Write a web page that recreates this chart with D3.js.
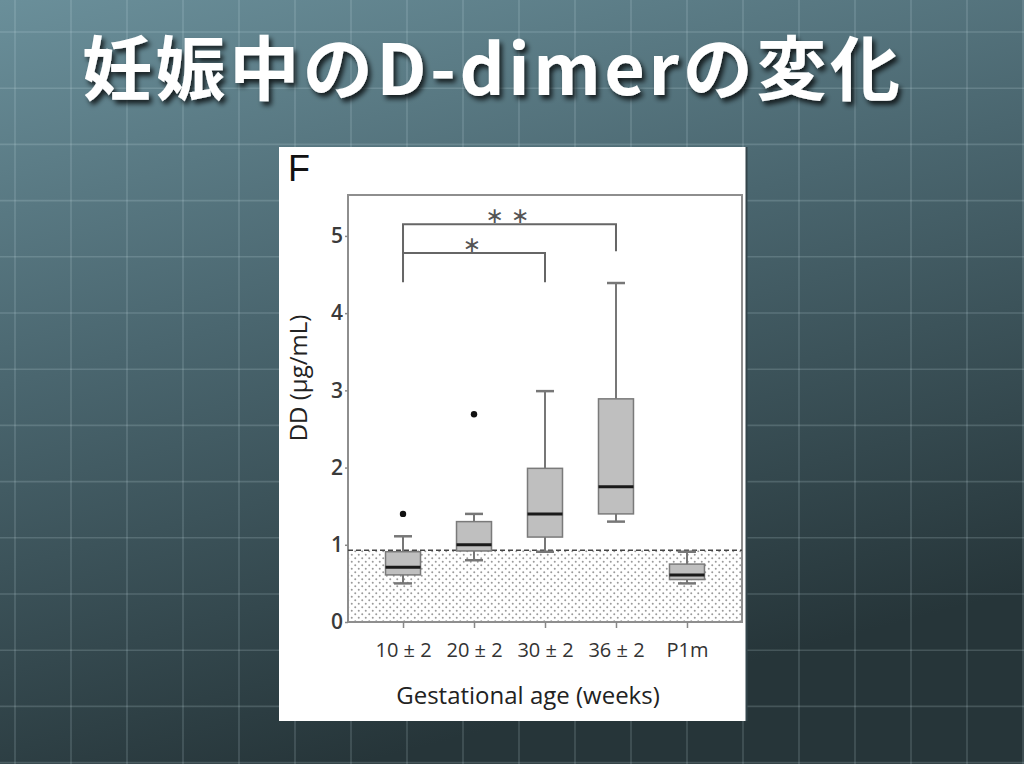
<!DOCTYPE html>
<html>
<head>
<meta charset="utf-8">
<script src="https://cdn.jsdelivr.net/npm/d3@7"></script>
<style>
  html, body { margin: 0; padding: 0; background: #3a5059; }
  svg { display: block; }
</style>
</head>
<body>
<svg id="chart" width="1024" height="764"></svg>
<script>
// ---------- data ----------
const title = "妊娠中のD-dimerの変化";
const panelLabel = "F";
const categories = ["10±2", "20±2", "30±2", "36±2", "P1m"];
const categoryLabels = ["10 ± 2", "20 ± 2", "30 ± 2", "36 ± 2", "P1m"];
const whiskerLow  = [0.50, 0.80, 0.91, 1.30, 0.50];
const q1          = [0.61, 0.92, 1.10, 1.40, 0.55];
const median      = [0.71, 1.00, 1.40, 1.75, 0.61];
const q3          = [0.91, 1.30, 1.99, 2.89, 0.75];
const whiskerHigh = [1.11, 1.40, 2.99, 4.39, 0.91];
const outlierCats   = ["10±2", "20±2"];
const outlierValues = [1.40, 2.69];
const yTicks = [0, 1, 2, 3, 4, 5];
const cutoffValue = 0.93;
const bracketFrom   = ["10±2", "10±2"];
const bracketTo     = ["36±2", "30±2"];
const bracketTop    = [5.15, 4.78];
const bracketLeftEnd  = [4.78, 4.40];
const bracketRightEnd = [4.80, 4.40];
const bracketLabels = ["∗ ∗", "∗"];
const yLabel = "DD (µg/mL)";
const xLabel = "Gestational age (weeks)";

// ---------- setup ----------
const W = 1024, H = 764;
const svg = d3.select("#chart");
const defs = svg.append("defs");

// background gradient
const bg = defs.append("linearGradient").attr("id", "bgGrad")
  .attr("x1", "0").attr("y1", "0").attr("x2", "0.35").attr("y2", "1");
bg.append("stop").attr("offset", "0").attr("stop-color", "#6a8f9a");
bg.append("stop").attr("offset", "0.45").attr("stop-color", "#4a666f");
bg.append("stop").attr("offset", "1").attr("stop-color", "#263539");

const dots = defs.append("pattern").attr("id", "dots")
  .attr("patternUnits", "userSpaceOnUse").attr("width", 7).attr("height", 7);
dots.append("circle").attr("cx", 1.75).attr("cy", 1.75).attr("r", 1).attr("fill", "#9a9a9a");
dots.append("circle").attr("cx", 5.25).attr("cy", 5.25).attr("r", 1).attr("fill", "#9a9a9a");

const shadow = defs.append("filter").attr("id", "shadow")
  .attr("x", "-10%").attr("y", "-30%").attr("width", "130%").attr("height", "170%");
shadow.append("feDropShadow").attr("dx", 3).attr("dy", 4).attr("stdDeviation", 2.5)
  .attr("flood-color", "#000").attr("flood-opacity", 0.75);

svg.append("rect").attr("width", W).attr("height", H).attr("fill", "url(#bgGrad)");

// background grid
const gridG = svg.append("g").attr("stroke", "rgba(210,235,240,0.18)").attr("stroke-width", 1.6);
d3.range(15, W, 56).forEach(x => gridG.append("line").attr("x1", x).attr("x2", x).attr("y1", 0).attr("y2", H));
d3.range(32, H, 56.2).forEach(y => gridG.append("line").attr("y1", y).attr("y2", y).attr("x1", 0).attr("x2", W));

// title
svg.append("text")
  .attr("x", 82).attr("y", 95)
  .attr("textLength", 818).attr("lengthAdjust", "spacing")
  .attr("font-family", "'Noto Sans CJK JP', 'Noto Sans', sans-serif")
  .attr("font-weight", "bold").attr("font-size", 70)
  .attr("fill", "#ffffff").attr("filter", "url(#shadow)")
  .text(title);

// panel
svg.append("rect").attr("x", 279).attr("y", 147).attr("width", 467.5).attr("height", 574)
  .attr("fill", "#ffffff");
svg.append("line").attr("x1", 746.5).attr("x2", 746.5).attr("y1", 147).attr("y2", 721)
  .attr("stroke", "#33444a").attr("stroke-width", 2);

svg.append("text").attr("x", 288).attr("y", 181)
  .attr("font-family", "'Liberation Sans', Arial, sans-serif")
  .attr("font-size", 36).attr("fill", "#111").text(panelLabel);

// scales
const plot = { left: 348, right: 742, top: 195, bottom: 622 };
const y = d3.scaleLinear().domain([0, 5.53]).range([plot.bottom, plot.top]);
const x = d3.scalePoint().domain(categories).range([plot.left, plot.right]).padding(0.775);

// reference zone (dotted)
svg.append("rect")
  .attr("x", plot.left).attr("y", y(cutoffValue))
  .attr("width", plot.right - plot.left).attr("height", y(0) - y(cutoffValue))
  .attr("fill", "url(#dots)");

// frame
svg.append("rect").attr("x", plot.left).attr("y", plot.top)
  .attr("width", plot.right - plot.left).attr("height", plot.bottom - plot.top)
  .attr("fill", "none").attr("stroke", "#8e8e8e").attr("stroke-width", 2);

// axes
const yAxis = d3.axisLeft(y).tickValues(yTicks).tickSize(3).tickPadding(2).tickFormat(d3.format("d"));
const yg = svg.append("g").attr("transform", `translate(${plot.left},0)`).call(yAxis);
yg.select(".domain").remove();
yg.selectAll(".tick line").attr("stroke", "#888").attr("stroke-width", 1.5);
yg.selectAll(".tick text").attr("font-family", "'Open Sans', sans-serif")
  .attr("font-size", 21).attr("font-weight", 600).attr("fill", "#3a3a3a");

const xAxis = d3.axisBottom(x).tickSize(6).tickPadding(15)
  .tickFormat((d, i) => categoryLabels[i]);
const xg = svg.append("g").attr("transform", `translate(0,${plot.bottom})`).call(xAxis);
xg.select(".domain").remove();
xg.selectAll(".tick line").attr("stroke", "#888").attr("stroke-width", 1.5);
xg.selectAll(".tick text").attr("font-family", "'Open Sans', sans-serif")
  .attr("font-size", 20).attr("fill", "#333");

// dashed cutoff line
svg.append("line").attr("x1", plot.left).attr("x2", plot.right)
  .attr("y1", y(cutoffValue)).attr("y2", y(cutoffValue))
  .attr("stroke", "#444").attr("stroke-width", 1.5).attr("stroke-dasharray", "5,3");

// boxes
const boxW = 35, capW = 18;
const boxes = categories.map((c, i) => ({
  c, lo: whiskerLow[i], q1: q1[i], med: median[i], q3: q3[i], hi: whiskerHigh[i]
}));
const bg2 = svg.append("g");
boxes.forEach(b => {
  const cx = x(b.c);
  const g = bg2.append("g");
  g.append("line").attr("x1", cx).attr("x2", cx).attr("y1", y(b.q3)).attr("y2", y(b.hi))
    .attr("stroke", "#777").attr("stroke-width", 2);
  g.append("line").attr("x1", cx).attr("x2", cx).attr("y1", y(b.q1)).attr("y2", y(b.lo))
    .attr("stroke", "#777").attr("stroke-width", 2);
  g.append("line").attr("x1", cx - capW / 2).attr("x2", cx + capW / 2).attr("y1", y(b.hi)).attr("y2", y(b.hi))
    .attr("stroke", "#777").attr("stroke-width", 2.5);
  g.append("line").attr("x1", cx - capW / 2).attr("x2", cx + capW / 2).attr("y1", y(b.lo)).attr("y2", y(b.lo))
    .attr("stroke", "#777").attr("stroke-width", 2.5);
  g.append("rect").attr("x", cx - boxW / 2).attr("y", y(b.q3))
    .attr("width", boxW).attr("height", y(b.q1) - y(b.q3))
    .attr("fill", "#bfbfbf").attr("stroke", "#7a7a7a").attr("stroke-width", 1.5);
  g.append("line").attr("x1", cx - boxW / 2).attr("x2", cx + boxW / 2).attr("y1", y(b.med)).attr("y2", y(b.med))
    .attr("stroke", "#1a1a1a").attr("stroke-width", 3);
});

// outliers
outlierCats.forEach((c, i) => {
  svg.append("circle").attr("cx", x(c)).attr("cy", y(outlierValues[i])).attr("r", 3.2).attr("fill", "#111");
});

// significance brackets
bracketFrom.forEach((f, i) => {
  const x1 = x(f), x2 = x(bracketTo[i]), yt = y(bracketTop[i]);
  svg.append("path")
    .attr("d", `M${x1},${y(bracketLeftEnd[i])}V${yt}H${x2}V${y(bracketRightEnd[i])}`)
    .attr("fill", "none").attr("stroke", "#666").attr("stroke-width", 2);
  svg.append("text").attr("x", (x1 + x2) / 2 - 2).attr("y", yt - 1)
    .attr("text-anchor", "middle")
    .attr("font-family", "'DejaVu Sans', sans-serif").attr("font-size", 22)
    .attr("fill", "#555").text(bracketLabels[i]);
});

// axis titles
svg.append("text")
  .attr("transform", `translate(307,${378}) rotate(-90)`)
  .attr("text-anchor", "middle")
  .attr("font-family", "'Open Sans', sans-serif").attr("font-size", 24).attr("fill", "#222")
  .text(yLabel);
svg.append("text")
  .attr("x", 528).attr("y", 704).attr("text-anchor", "middle")
  .attr("font-family", "'Open Sans', sans-serif").attr("font-size", 24).attr("fill", "#222")
  .text(xLabel);
</script>
</body>
</html>
